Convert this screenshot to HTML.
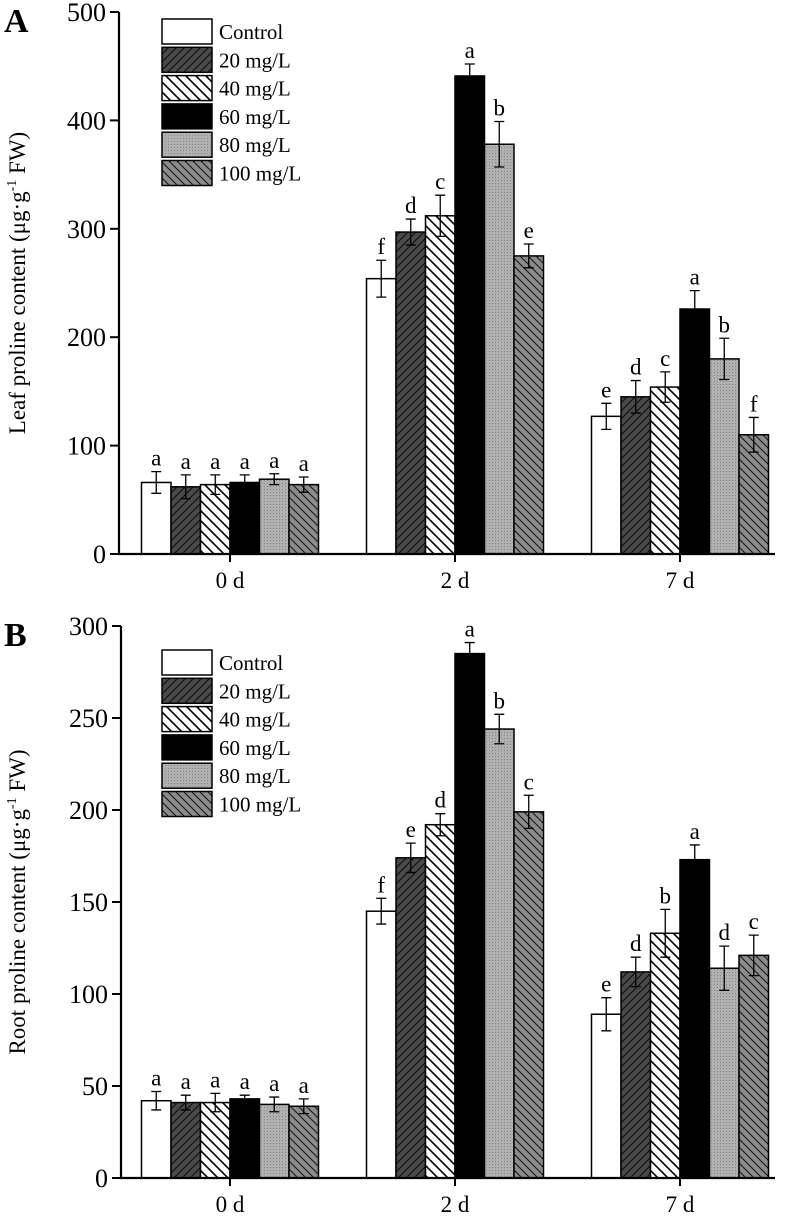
<!DOCTYPE html>
<html><head><meta charset="utf-8"><style>
html,body{margin:0;padding:0;background:#fff;}
svg{display:block;font-family:"Liberation Serif",serif;}
</style></head><body>
<svg id="chart" width="786" height="1226" viewBox="0 0 786 1226" xmlns="http://www.w3.org/2000/svg">
<defs>
<pattern id="p20" patternUnits="userSpaceOnUse" width="8" height="8"><rect width="8" height="8" fill="#4a4a4a"/><path d="M-2,10 L10,-2 M-2,2 L2,-2 M6,10 L10,6" stroke="#111" stroke-width="1.2"/></pattern>
<pattern id="p40" patternUnits="userSpaceOnUse" width="10" height="10"><rect width="10" height="10" fill="#fff"/><path d="M-2,-2 L12,12 M-2,8 L2,12 M8,-2 L12,2" stroke="#000" stroke-width="1.6"/></pattern>
<pattern id="p80" patternUnits="userSpaceOnUse" width="3" height="3"><rect width="3" height="3" fill="#b0b0b0"/><rect width="1" height="1" fill="#8a8a8a"/></pattern>
<pattern id="p100" patternUnits="userSpaceOnUse" width="8" height="8"><rect width="8" height="8" fill="#8c8c8c"/><path d="M-2,-2 L10,10 M-2,6 L2,10 M6,-2 L10,2" stroke="#222" stroke-width="1.2"/></pattern>
</defs>
</svg>
<script>
const groups = ["0 d","2 d","7 d"];
const seriesNames = ["Control","20 mg/L","40 mg/L","60 mg/L","80 mg/L","100 mg/L"];
const fills = ["#fff","url(#p20)","url(#p40)","#000","url(#p80)","url(#p100)"];
// Panel A (leaf)
const leafValues = [[66,62,64,66,69,64],[254,297,312,441,378,275],[127,145,154,226,180,110]];
const leafErrors = [[10,11,9,7,5,7],[17,12,19,11,21,11],[12,15,14,17,19,16]];
const leafLetters = [["a","a","a","a","a","a"],["f","d","c","a","b","e"],["e","d","c","a","b","f"]];
const leafTicks = [0,100,200,300,400,500];
// Panel B (root)
const rootValues = [[42,41,41,43,40,39],[145,174,192,285,244,199],[89,112,133,173,114,121]];
const rootErrors = [[5,4,5,2,4,4],[7,8,6,6,8,9],[9,8,13,8,12,11]];
const rootLetters = [["a","a","a","a","a","a"],["f","e","d","a","b","c"],["e","d","b","a","d","c"]];
const rootTicks = [0,50,100,150,200,250,300];

const svg = document.getElementById('chart');
const NS = "http://www.w3.org/2000/svg";
function el(tag, attrs, parent){const e=document.createElementNS(NS,tag);for(const k in attrs)e.setAttribute(k,attrs[k]);(parent||svg).appendChild(e);return e;}

function panel(cfg){
  const g = el('g',{});
  
  
  const y = v => cfg.y0 - (v/cfg.max)*(cfg.y0-cfg.yTop);
  const x0 = cfg.axisX, groupW = 225, barW = 29.5, firstCenter = 230;
  const gx = i => firstCenter + i*groupW;
  groups.forEach((grp,gi)=>{
    cfg.values[gi].forEach((v,si)=>{
      const bx = gx(gi) - 3*barW + si*barW;
      const r = el('rect',{x:bx,y:y(v),width:barW,height:cfg.y0-y(v),fill:fills[si],stroke:'#000','stroke-width':1.5},g);
      
      
      const cx = bx+barW/2, e=cfg.errors[gi][si];
      const eb = el('path',{d:`M${cx},${y(v+e)} V${y(v-e)} M${cx-5},${y(v+e)} H${cx+5} M${cx-5},${y(v-e)} H${cx+5}`,stroke:'#000','stroke-width':1.3,fill:'none'},g);
      
      
      const t = el('text',{x:cx,y:y(v+e)-6,'text-anchor':'middle','font-size':23},g);
      t.textContent = cfg.letters[gi][si];
      
      
    });
    el('line',{x1:gx(gi),x2:gx(gi),y1:cfg.y0,y2:cfg.y0+8,stroke:'#000','stroke-width':2},g);
    const lbl = el('text',{x:gx(gi),y:cfg.y0+34,'text-anchor':'middle','font-size':23},g);
    lbl.textContent = grp;
    
    
  });
  el('line',{x1:x0,x2:x0,y1:cfg.yTop,y2:cfg.y0,stroke:'#000','stroke-width':2.2},g);
  el('line',{x1:x0-1,x2:775,y1:cfg.y0,y2:cfg.y0,stroke:'#000','stroke-width':2.2},g);
  cfg.ticks.forEach(tv=>{
    el('line',{x1:x0-9,x2:x0,y1:y(tv),y2:y(tv),stroke:'#000','stroke-width':2},g);
    const t = el('text',{x:x0-13,y:y(tv)+9,'text-anchor':'end','font-size':26},g);
    t.textContent = tv;
    
    
  });
  const yl = el('text',{transform:`translate(25,${(cfg.y0+cfg.yTop)/2}) rotate(-90)`,'text-anchor':'middle','font-size':23},g);
  yl.innerHTML = cfg.ylabel + ' (μg·g<tspan dy="-9" font-size="14">-1</tspan><tspan dy="9"> FW)</tspan>';
  
  
  const pl = el('text',{x:4,y:cfg.yTop+20,'font-size':34,'font-weight':'bold'},g);
  pl.textContent = cfg.letter;
  
  
  seriesNames.forEach((n,i)=>{
    const ly = cfg.legTop + i*28.3;
    const lr = el('rect',{x:162,y:ly,width:50,height:25,fill:fills[i],stroke:'#000','stroke-width':1.5},g);
    
    
    const lt = el('text',{x:219,y:ly+20,'font-size':21},g);
    lt.textContent = n;
    
    
  });
}
panel({name:'panel-a-leaf',letter:'A',values:leafValues,errors:leafErrors,letters:leafLetters,ticks:leafTicks,max:500,y0:554,yTop:12,axisX:119,legTop:19,ylabel:'Leaf proline content'});
panel({name:'panel-b-root',letter:'B',values:rootValues,errors:rootErrors,letters:rootLetters,ticks:rootTicks,max:300,y0:1178,yTop:626,axisX:121,legTop:650,ylabel:'Root proline content'});
</script>
</body></html>
